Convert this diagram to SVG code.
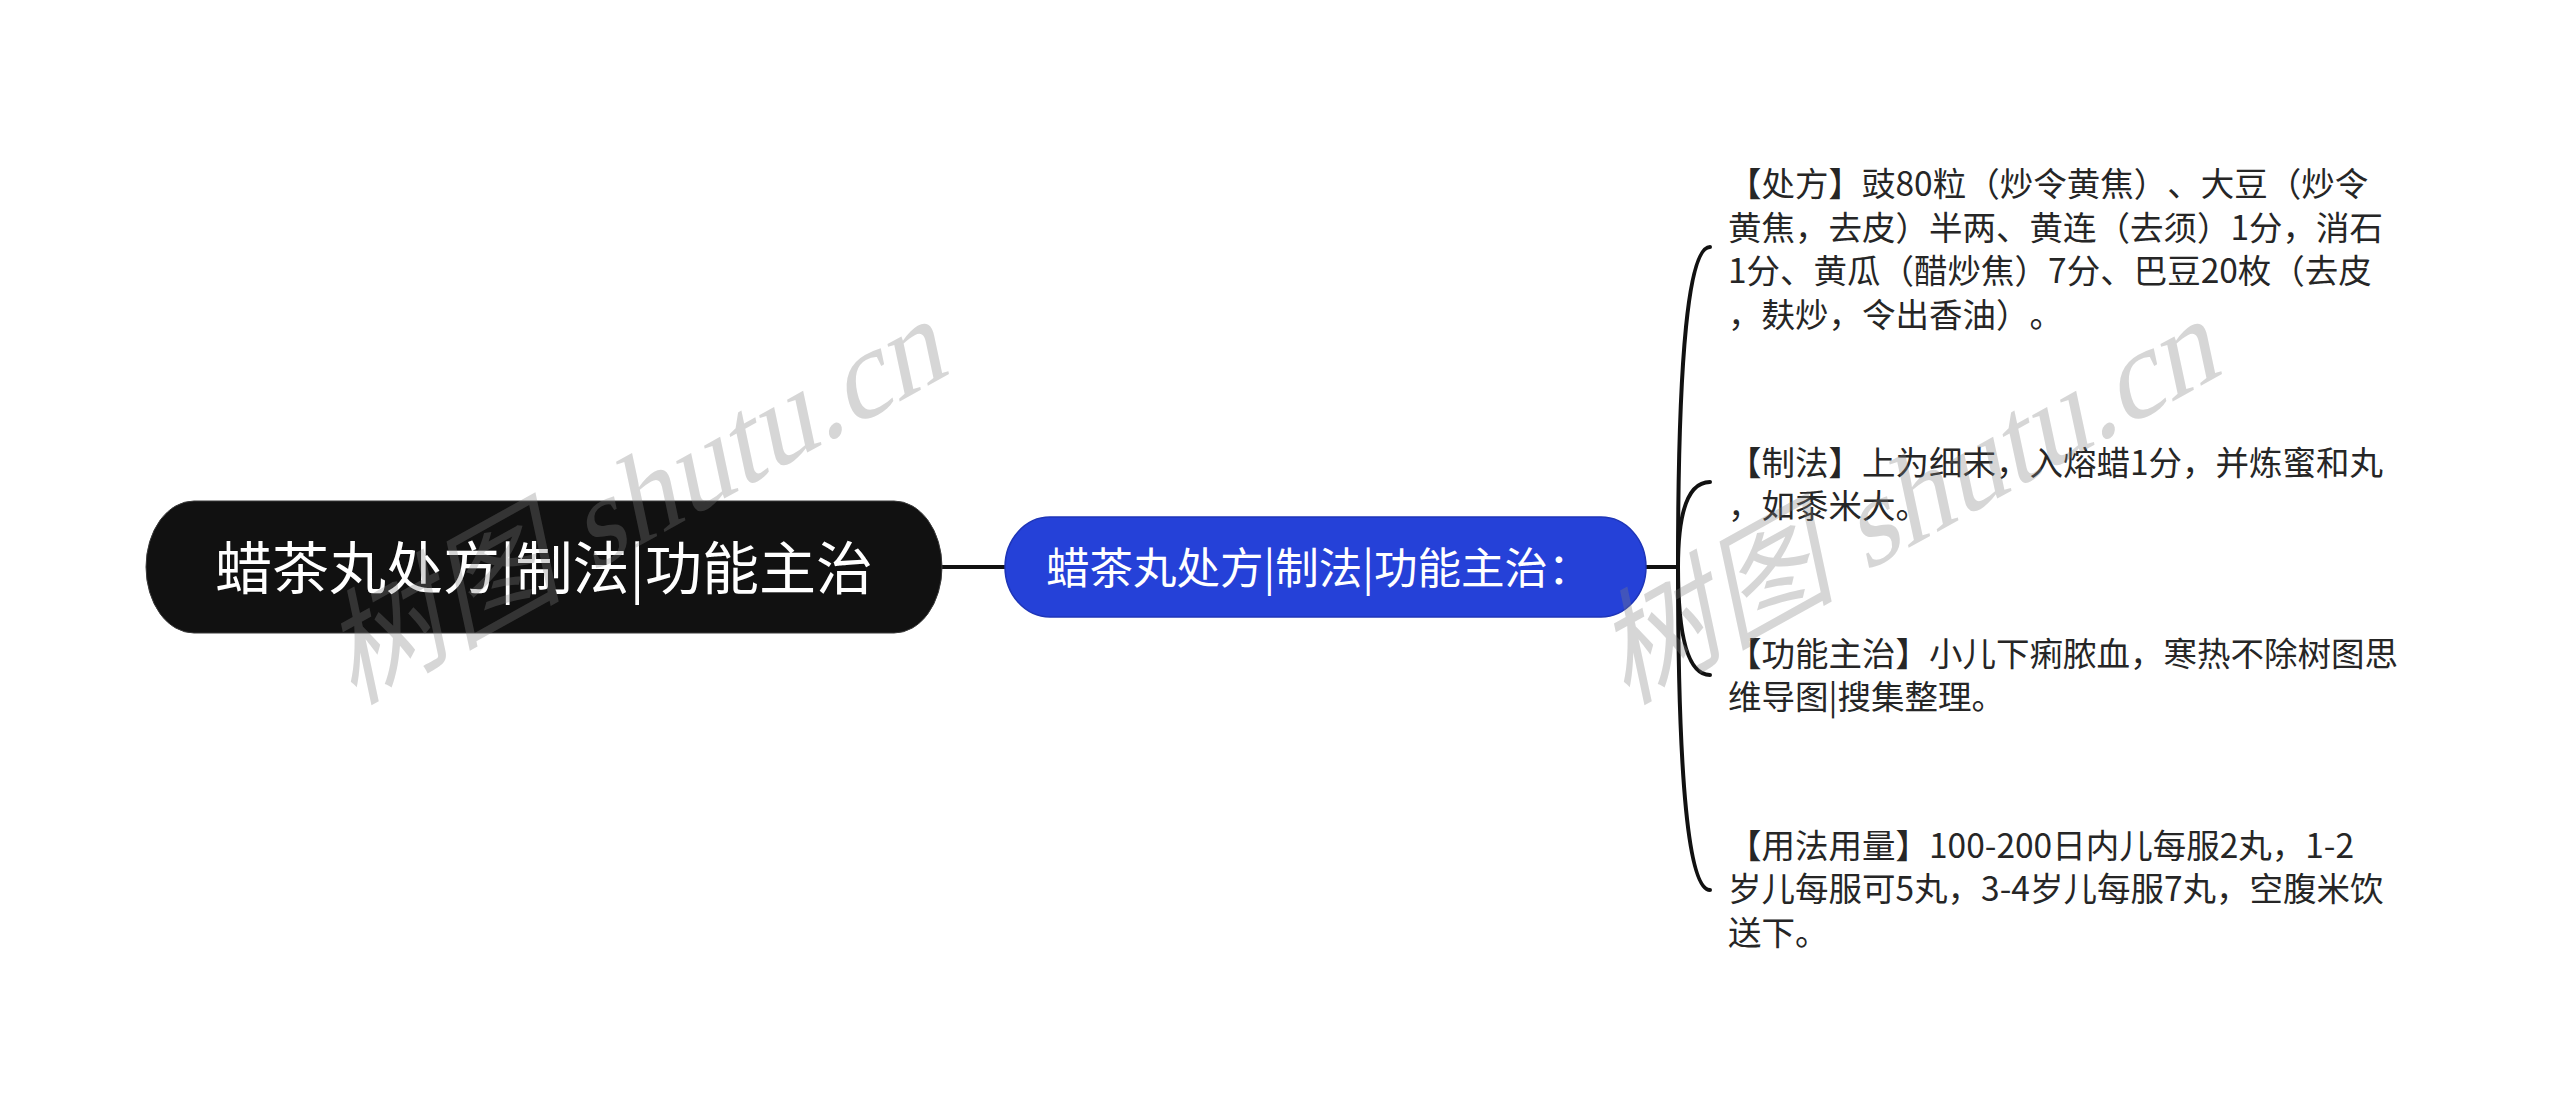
<svg xmlns="http://www.w3.org/2000/svg" width="2560" height="1114" viewBox="0 0 2560 1114">
<style>
text{text-spacing-trim:space-all;font-kerning:none;}
.root-box{fill:#111111;stroke:#3a3a3a;stroke-width:1;}
.main-box{fill:#2541D8;stroke:#1E35B8;stroke-width:1.5;}
.root-txt{font-family:"Noto Sans CJK SC","Noto Sans",sans-serif;font-size:57px;fill:#ffffff;}
.main-txt{font-family:"Noto Sans CJK SC","Noto Sans",sans-serif;font-size:43.5px;fill:#ffffff;}
.leaf-txt{font-family:"Noto Sans CJK SC","Noto Sans",sans-serif;font-size:33.5px;fill:#262626;}
.link{fill:none;stroke:#111111;stroke-width:4;stroke-linecap:round;}
.wm{font-size:122px;fill:#808080;fill-opacity:0.32;}
.wm-cjk{font-family:"Noto Sans CJK SC",sans-serif;}
.wm-lat{font-family:"Liberation Serif",serif;}
</style>
<rect width="2560" height="1114" fill="#ffffff"/>
<g id="connectors">
<line class="link" x1="942" y1="567" x2="1005" y2="567"/>
<line class="link" x1="1646" y1="567" x2="1678" y2="567"/>
<path class="link" d="M1678,567 Q1678,247 1710,247"/>
<path class="link" d="M1678,567 Q1678,482 1710,482"/>
<path class="link" d="M1678,567 Q1678,675 1710,675"/>
<path class="link" d="M1678,567 Q1678,890 1710,890"/>
</g>
<g id="root">
<rect class="root-box" x="146" y="501" width="796" height="132" rx="48" ry="66"/>
<text class="root-txt" x="544" y="589" text-anchor="middle">蜡茶丸处方|制法|功能主治</text>
</g>
<g id="main">
<rect class="main-box" x="1005" y="517" width="641" height="100" rx="45" ry="50"/>
<text class="main-txt" x="1046" y="584">蜡茶丸处方|制法|功能主治：</text>
</g>
<g id="leaf-chufang">
<text class="leaf-txt" x="1728" y="196">【处方】豉80粒（炒令黄焦）、大豆（炒令</text>
<text class="leaf-txt" x="1728" y="240">黄焦，去皮）半两、黄连（去须）1分，消石</text>
<text class="leaf-txt" x="1728" y="283">1分、黄瓜（醋炒焦）7分、巴豆20枚（去皮</text>
<text class="leaf-txt" x="1728" y="327">，麸炒，令出香油）。</text>
</g>
<g id="leaf-zhifa">
<text class="leaf-txt" x="1728" y="475">【制法】上为细末，入熔蜡1分，并炼蜜和丸</text>
<text class="leaf-txt" x="1728" y="518">，如黍米大。</text>
</g>
<g id="leaf-gongneng">
<text class="leaf-txt" x="1728" y="666">【功能主治】小儿下痢脓血，寒热不除树图思</text>
<text class="leaf-txt" x="1728" y="709">维导图|搜集整理。</text>
</g>
<g id="leaf-yongfa">
<text class="leaf-txt" x="1728" y="858">【用法用量】100-200日内儿每服2丸，1-2</text>
<text class="leaf-txt" x="1728" y="901">岁儿每服可5丸，3-4岁儿每服7丸，空腹米饮</text>
<text class="leaf-txt" x="1728" y="945">送下。</text>
</g>
<g id="watermarks">
<text class="wm" transform="translate(352,705) rotate(-29) skewX(-17)"><tspan class="wm-cjk">树图</tspan><tspan class="wm-lat"> shutu.cn</tspan></text>
<text class="wm" transform="translate(1625,705) rotate(-29) skewX(-17)"><tspan class="wm-cjk">树图</tspan><tspan class="wm-lat"> shutu.cn</tspan></text>
</g>
</svg>
